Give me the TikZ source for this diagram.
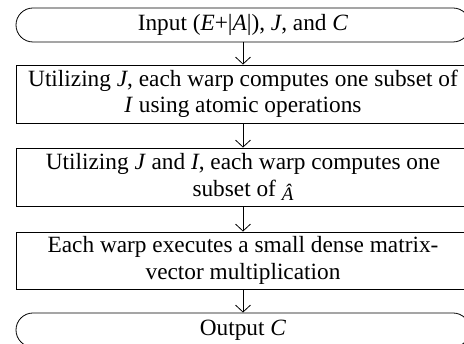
\documentclass[tikz,border=0pt]{standalone}
\usepackage{fontspec}
\setmainfont{Liberation Serif}
\usetikzlibrary{arrows.meta}
\begin{document}
\begin{tikzpicture}[x=1pt,y=-1pt,
  base/.style={draw=black,line width=0.8pt,minimum width=454pt,inner sep=0pt,
    align=center,font=\fontsize{23.3}{26.5}\selectfont},
  term/.style={base,minimum height=34pt,rounded corners=17pt},
  procbox/.style={base,minimum height=58pt},
  arr/.style={draw=black,line width=0.8pt,-{Straight Barb[length=7pt,width=15pt,line width=0.8pt]}}]
\useasboundingbox (0,0) rectangle (464,344);
\node[term] (t1) at (243,25) {Input (\textit{E}+|\textit{A}|), \textit{J}, and \textit{C}};
\node[procbox] (b2) at (243,94) {Utilizing \textit{J}, each warp computes one subset of\\\textit{I} using atomic operations};
\node[procbox] (b3) at (243,177) {Utilizing \textit{J} and \textit{I}, each warp computes one\\subset of \raisebox{-4pt}{\fontsize{19}{19}\selectfont\textit{Â}}};
\node[procbox,minimum height=57pt] (b4) at (243,260.5) {Each warp executes a small dense matrix-\\vector multiplication};
\node[term] (t2) at (243,330) {Output \textit{C}};
\draw[arr] (t1) -- (b2);
\draw[arr] (b2) -- (b3);
\draw[arr] (b3) -- (b4);
\draw[arr] (b4) -- (t2);
\end{tikzpicture}
\end{document}
